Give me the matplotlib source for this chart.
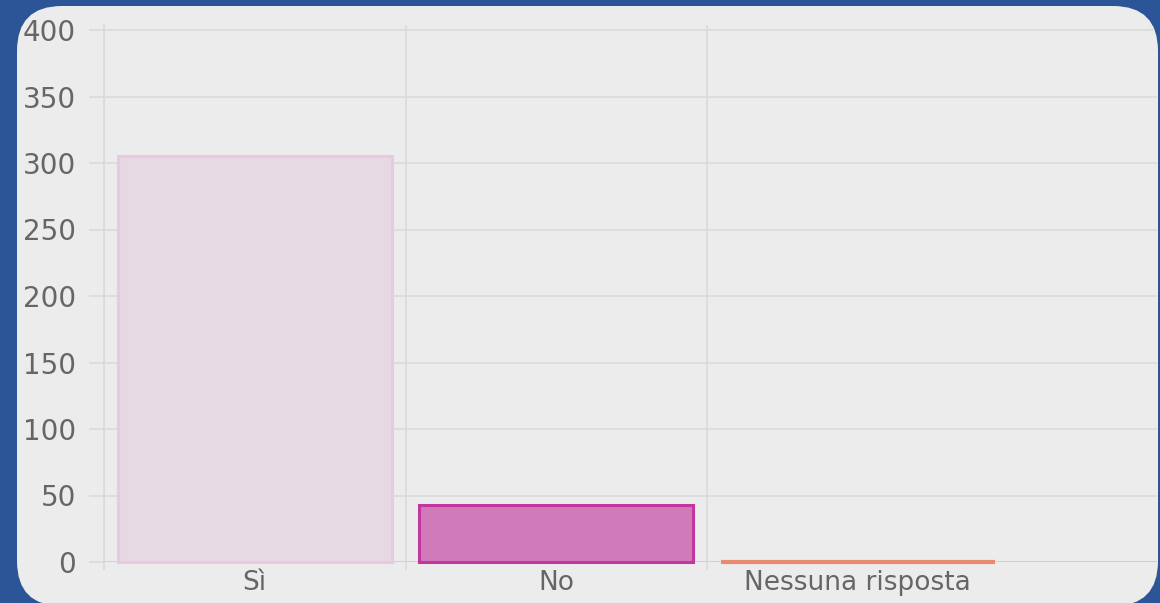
import numpy as np
import matplotlib.pyplot as plt
from matplotlib.patches import FancyBboxPatch

# dati
categorie = ['Sì', 'No', 'Nessuna risposta']
valori = [305, 43, 0]
colori_fill = ['#e6d9e3', '#d07ab9', '#ea8a70']
colori_bordo = ['#ebc8e1', '#c2379f', '#ea8a70']
y_ticks = [0, 50, 100, 150, 200, 250, 300, 350, 400]

W, H = 1160, 603
fig = plt.figure(figsize=(W / 100, H / 100), dpi=100)
fig.patch.set_facecolor('#2c5597')

# pannello arrotondato (coordinate in pixel)
bg = fig.add_axes([0, 0, 1, 1])
bg.set_xlim(0, W)
bg.set_ylim(H, 0)
bg.axis('off')
r = 45
pannello = FancyBboxPatch((17 + r, 6 + r), 1141 - 2 * r, 600 - 2 * r,
                          boxstyle='round,pad=%d' % r, fc='#ececec', ec='none')
bg.add_patch(pannello)

# area del grafico
x0, x1 = 104, 1157
y_top, y_zero = 25, 562
passo = 301.5
px_per_unit = (562 - 30) / 400
ax = fig.add_axes([x0 / W, (H - y_zero) / H, (x1 - x0) / W, (y_zero - y_top) / H])
ax.set_facecolor('none')

x = np.arange(len(categorie))
barre = ax.bar(x, valori, width=0.91, color=colori_fill, edgecolor=colori_bordo,
               linewidth=2.2, zorder=4)
barre[2].set_linewidth(3)

ax.set_xlim(-0.5, -0.5 + (x1 - x0) / passo)
ax.set_ylim(0, (y_zero - y_top) / px_per_unit)

grigio = '#dadada'
ax.set_yticks(y_ticks)
ax.set_yticklabels([str(v) for v in y_ticks])
ax.set_xticks(x)
ax.set_xticklabels(categorie)
ax.set_xticks([-0.5, 0.5, 1.5], minor=True)

ax.grid(axis='y', color=grigio, linewidth=1.2, zorder=0)
ax.grid(axis='x', which='minor', color=grigio, linewidth=1.2, zorder=0)

ax.tick_params(axis='y', length=11, width=1.2, color=grigio, pad=9,
               labelsize=20, labelcolor='#666666')
ax.tick_params(axis='x', which='major', length=0, pad=6,
               labelsize=19, labelcolor='#666666')
ax.tick_params(axis='x', which='minor', length=6, width=1.2, color=grigio)

for s in ['top', 'right', 'bottom']:
    ax.spines[s].set_visible(False)
ax.spines['left'].set_color(grigio)
ax.spines['left'].set_linewidth(1.2)
ax.axhline(0, color='#d0d0d0', linewidth=1.4, zorder=2)

# ritaglia griglia, assi ed etichette sul pannello arrotondato
for art in ax.get_children():
    if art in barre.patches:
        art.set_clip_on(False)
    else:
        art.set_clip_path(pannello)
for lab in ax.get_yticklabels() + ax.get_xticklabels():
    lab.set_clip_path(pannello)

plt.savefig('out.png', dpi=100, facecolor=fig.get_facecolor())
